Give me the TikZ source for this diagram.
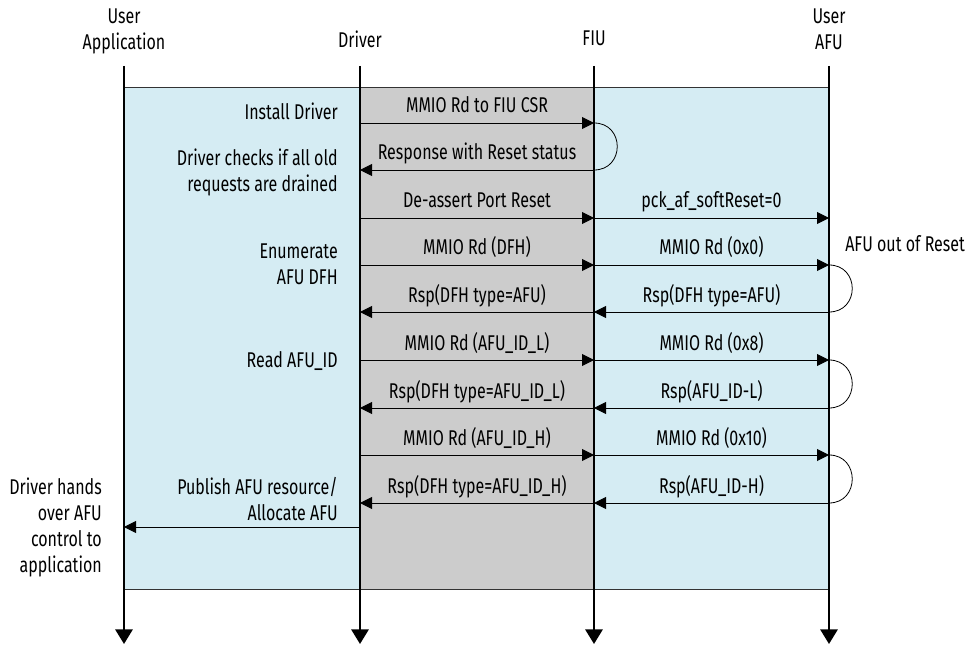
\documentclass[tikz,border=0pt]{standalone}
\usepackage{fontspec}
\setmainfont{Fira Sans}[FakeStretch=0.75]
\usetikzlibrary{arrows.meta,calc}
\definecolor{paneblue}{RGB}{213,236,243}
\definecolor{panegray}{RGB}{204,204,204}
\tikzstyle{lifeline} = [line width=1.6pt, -{Triangle[length=11pt,width=13pt]}]
\tikzstyle{msg} = [line width=0.7pt, -{Triangle[length=9pt,width=9pt]}]
\tikzstyle{loopback} = [line width=0.6pt]
\tikzstyle{lbl} = [midway, anchor=base, yshift=7.5pt, inner sep=0pt]
\tikzstyle{head} = [align=center, anchor=north, inner sep=0pt]
\tikzstyle{note} = [align=right, anchor=north east, inner sep=0pt]

\begin{document}
\begin{tikzpicture}[x=0.75pt, y=-0.75pt, font=\fontsize{16}{19.5}\selectfont]
  \useasboundingbox (0,0) rectangle (974,645);
  % lifelines
  \coordinate (app) at (124,66);
  \coordinate (drv) at (360,66);
  \coordinate (fiu) at (594,66);
  \coordinate (afu) at (829,66);
  \coordinate (paneT) at (0,87);
  \coordinate (paneB) at (0,589);
  \coordinate (bot) at (0,644);
  % message rows
  \coordinate (r1) at (0,123);
  \coordinate (r2) at (0,170);
  \coordinate (r3) at (0,218);
  \coordinate (r4) at (0,265);
  \coordinate (r5) at (0,312);
  \coordinate (r6) at (0,360);
  \coordinate (r7) at (0,408);
  \coordinate (r8) at (0,455);
  \coordinate (r9) at (0,503);
  \coordinate (r10) at (0,527);

  % panes
  \fill[paneblue] (app |- paneT) rectangle (afu |- paneB);
  \fill[panegray] (drv |- paneT) rectangle (fiu |- paneB);
  \draw[line width=0.6pt, black!80] (app |- paneT) -- (afu |- paneT);
  \draw[line width=0.6pt, black!80] (app |- paneB) -- (afu |- paneB);

  \node[head] (appName) at (124,9) {User\\Application};
  \node[head] (drvName) at (360,31) {Driver};
  \node[head] (fiuName) at (594,31) {FIU};
  \node[head] (afuName) at (829,9) {User\\AFU};

  \draw[lifeline] (app) -- (app |- bot);
  \draw[lifeline] (drv) -- (drv |- bot);
  \draw[lifeline] (fiu) -- (fiu |- bot);
  \draw[lifeline] (afu) -- (afu |- bot);

  % driver <-> FIU
  \draw[msg] (drv |- r1) -- node[lbl]{MMIO Rd to FIU CSR} (fiu |- r1);
  \draw[loopback] (fiu |- r1) .. controls +(31,0) and +(31,0) .. (fiu |- r2);
  \draw[msg] (fiu |- r2) -- node[lbl]{Response with Reset status} (drv |- r2);
  \draw[msg] (drv |- r3) -- node[lbl]{De-assert Port Reset} (fiu |- r3);
  \draw[msg] (drv |- r4) -- node[lbl]{MMIO Rd (DFH)} (fiu |- r4);
  \draw[msg] (fiu |- r5) -- node[lbl]{Rsp(DFH type=AFU)} (drv |- r5);
  \draw[msg] (drv |- r6) -- node[lbl]{MMIO Rd (AFU\_ID\_L)} (fiu |- r6);
  \draw[msg] (fiu |- r7) -- node[lbl]{Rsp(DFH type=AFU\_ID\_L)} (drv |- r7);
  \draw[msg] (drv |- r8) -- node[lbl]{MMIO Rd (AFU\_ID\_H)} (fiu |- r8);
  \draw[msg] (fiu |- r9) -- node[lbl]{Rsp(DFH type=AFU\_ID\_H)} (drv |- r9);

  % FIU <-> AFU
  \draw[msg] (fiu |- r3) -- node[lbl]{pck\_af\_softReset=0} (afu |- r3);
  \draw[msg] (fiu |- r4) -- node[lbl]{MMIO Rd (0x0)} (afu |- r4);
  \draw[loopback] (afu |- r4) .. controls +(31,0) and +(31,0) .. (afu |- r5);
  \draw[msg] (afu |- r5) -- node[lbl]{Rsp(DFH type=AFU)} (fiu |- r5);
  \draw[msg] (fiu |- r6) -- node[lbl]{MMIO Rd (0x8)} (afu |- r6);
  \draw[loopback] (afu |- r6) .. controls +(31,0) and +(31,0) .. (afu |- r7);
  \draw[msg] (afu |- r7) -- node[lbl]{Rsp(AFU\_ID-L)} (fiu |- r7);
  \draw[msg] (fiu |- r8) -- node[lbl]{MMIO Rd (0x10)} (afu |- r8);
  \draw[loopback] (afu |- r8) .. controls +(31,0) and +(31,0) .. (afu |- r9);
  \draw[msg] (afu |- r9) -- node[lbl]{Rsp(AFU\_ID-H)} (fiu |- r9);

  % driver -> application
  \draw[msg] (drv |- r10) -- (app |- r10);

  % notes
  \node[note, anchor=base east] (install) at (338,120) {Install Driver};
  \node[note] (drain) at (338,149) {Driver checks if all old\\requests are drained};
  \node[note] (enum) at (338,244) {Enumerate\\AFU DFH};
  \node[note, anchor=base east] (readid) at (338,367) {Read AFU\_ID};
  \node[note] (publish) at (338,477) {Publish AFU resource/\\Allocate AFU};
  \node[note] (handover) at (102,478) {Driver hands\\over AFU\\control to\\application};
  \node[inner sep=0pt, anchor=base west] (afuReset) at (845,252) {AFU out of Reset};
\end{tikzpicture}
\end{document}
